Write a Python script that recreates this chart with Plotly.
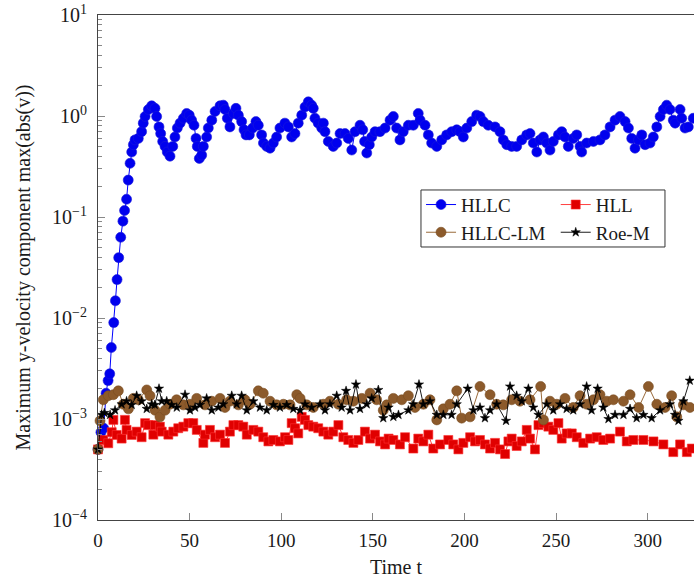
import plotly.graph_objects as go

# ---- data -------------------------------------------------------------
hllc_t = [0, 1.6, 3.1, 4.4, 5.5, 6.4, 7.3, 8.6, 9.5, 10.4, 11.3, 12.4, 13.6, 14.5, 15.6, 16.5, 17.5, 18.4,
          19.3, 20.2, 22.0, 23.8, 24.7, 25.7, 27.5, 29.3, 31.1, 32.0, 33.3, 34.2, 35.3, 36.6, 37.8, 39.3,
          40.8, 42.0, 43.3, 44.8, 46.6, 48.4, 49.8, 51.1, 52.4, 53.5, 54.2, 55.3, 56.6, 57.5, 59.3, 60.2,
          62.1, 63.9, 66.6, 68.4, 69.3, 70.6, 72.0, 73.9, 75.3, 76.6, 78.4, 79.7, 80.8, 82.6, 84.4, 86.2,
          87.5, 89.3, 90.3, 92.1, 93.9, 95.7, 97.5, 99.3, 102.0, 103.9, 105.7, 107.5, 109.3, 111.2, 113.0,
          114.8, 116.6, 117.5, 118.4, 120.2, 122.1, 123.0, 123.9, 125.7, 128.4, 130.3, 132.1, 134.8, 136.6,
          138.5, 140.3, 143.0, 144.5, 145.5, 146.7, 148.1, 149.4, 151.2, 153.9, 156.7, 159.4, 161.2, 163.0,
          164.8, 166.6, 169.4, 172.1, 174.8, 175.8, 178.5, 180.3, 182.1, 184.9, 187.6, 190.3, 193.1, 195.8,
          197.6, 199.4, 201.3, 204.0, 206.7, 208.5, 210.3, 213.0, 216.7, 219.4, 221.2, 223.1, 225.8, 228.5,
          231.3, 234.0, 235.8, 237.6, 239.5, 241.3, 243.1, 244.9, 246.7, 248.5, 251.3, 253.1, 254.9, 256.7,
          259.4, 261.3, 263.1, 264.0, 266.7, 270.4, 274.0, 276.7, 279.5, 282.2, 284.9, 287.7, 289.5, 291.3,
          293.1, 295.0, 296.8, 298.6, 301.3, 303.1, 305.0, 306.8, 308.6, 310.4, 312.2, 314.0, 315.0, 317.7,
          318.6, 320.4, 322.2, 324.9, 327.0]
hllc_v = [5.0e-4, 7.4e-4, 8.1e-4, 1.8e-3, 2.4e-3, 2.8e-3, 5.1e-3, 9.0e-3, 1.48e-2, 2.4e-2, 3.96e-2, 6.3e-2,
          9.1e-2, 0.116, 0.15, 0.232, 0.34, 0.44,
          0.52, 0.58, 0.60, 0.70, 0.85, 0.99, 1.16, 1.26, 1.19, 0.99, 0.78, 0.67, 0.56, 0.50, 0.44, 0.40,
          0.50, 0.62, 0.76, 0.85, 0.95, 1.06, 1.02, 0.91, 0.81, 0.60, 0.50, 0.38, 0.41, 0.50, 0.62, 0.76,
          0.91, 1.11, 1.26, 1.28, 1.16, 0.95, 0.78, 1.06, 1.19, 1.02, 0.88, 0.73, 0.65, 0.65, 0.76, 0.88,
          0.81, 0.65, 0.54, 0.50, 0.48, 0.54, 0.62, 0.76, 0.85, 0.78, 0.62, 0.67, 0.85, 1.02, 1.23,
          1.38, 1.28, 1.19, 0.95, 0.85, 0.76, 0.85, 0.70, 0.56, 0.50, 0.54, 0.67, 0.67, 0.60,
          0.46, 0.70, 0.81, 0.73, 0.56, 0.43, 0.52, 0.62, 0.70, 0.70, 0.76, 0.91, 0.99, 0.76,
          0.58, 0.70, 0.81, 0.81, 1.06, 0.91, 0.81, 0.65, 0.54, 0.50, 0.58, 0.65, 0.70, 0.73,
          0.70, 0.62, 0.76, 0.88, 1.02, 0.99, 0.88, 0.81, 0.78, 0.70, 0.58, 0.52, 0.50, 0.50,
          0.58, 0.65, 0.67, 0.54, 0.44, 0.58, 0.62, 0.54, 0.46, 0.56, 0.65, 0.70, 0.62, 0.50,
          0.60, 0.65, 0.50, 0.44, 0.54, 0.56, 0.58, 0.65, 0.78, 0.91, 0.99, 0.88, 0.76, 0.60,
          0.48, 0.58, 0.65, 0.52, 0.54, 0.62, 0.78, 0.99, 1.16, 1.28, 1.16, 0.91, 0.85, 1.16,
          0.95, 0.76, 0.78, 0.95, 0.90]

hll_t = [0, 2.9, 5.6, 7.5, 8.4, 10.2, 12.9, 14.7, 15.6, 18.4, 21.1, 23.8, 25.7, 27.5, 30.2, 31.1, 33.8, 34.8,
         38.4, 41.1, 43.8, 46.6, 49.3, 52.0, 53.9, 57.5, 58.4, 61.1, 63.9, 66.6, 69.3, 72.0, 73.9, 76.6,
         79.3, 81.2, 84.8, 87.5, 90.2, 93.0, 95.7, 99.3, 102.1, 103.9, 105.7, 107.5, 109.3, 111.2, 113.0,
         114.8, 117.5, 120.2, 123.0, 125.7, 128.4, 131.2, 133.9, 136.6, 139.4, 142.1, 145.7, 148.5, 151.2,
         153.9, 156.7, 158.6, 161.2, 164.8, 167.6, 172.1, 174.8, 177.6, 180.3, 183.0, 186.7, 191.2, 193.9,
         196.7, 199.4, 203.1, 205.8, 208.5, 211.2, 214.0, 216.7, 219.4, 222.2, 224.0, 225.8, 228.5, 231.3,
         234.0, 235.8, 238.5, 240.4, 243.1, 245.8, 248.5, 251.3, 253.1, 255.8, 258.6, 261.3, 264.9, 268.6,
         272.2, 275.8, 279.5, 284.9, 288.6, 292.2, 297.7, 303.2, 308.6, 314.0, 317.7, 321.4, 324.1]
hll_v = [5.0e-4, 6.2e-4, 5.75e-4, 7.4e-4, 9.8e-4, 6.95e-4, 6.4e-4, 9.8e-4, 7.8e-4, 6.95e-4, 7.5e-4, 6.6e-4,
         9.1e-4, 8.7e-4, 7.0e-4, 8.7e-4, 8.4e-4, 7.5e-4,
         7.0e-4, 7.5e-4, 8.1e-4, 8.4e-4, 9.1e-4, 9.1e-4, 7.8e-4, 5.8e-4, 7.0e-4, 7.8e-4, 6.6e-4, 7.0e-4,
         5.8e-4, 7.5e-4, 8.7e-4, 8.7e-4,
         8.4e-4, 7.0e-4, 7.8e-4, 7.5e-4, 6.6e-4, 6.0e-4, 6.2e-4, 6.0e-4, 6.6e-4, 6.2e-4, 9.1e-4, 8.1e-4,
         7.2e-4, 1.05e-3, 9.8e-4,
         8.7e-4, 8.4e-4, 8.1e-4, 7.5e-4, 7.0e-4, 7.5e-4, 8.7e-4, 6.6e-4, 6.2e-4, 5.8e-4, 6.2e-4, 7.5e-4,
         6.4e-4, 7.0e-4,
         6.0e-4, 5.6e-4, 6.4e-4, 6.2e-4, 5.6e-4, 6.6e-4, 5.1e-4, 6.4e-4, 6.0e-4, 7.0e-4, 5.1e-4, 5.6e-4,
         6.2e-4, 5.6e-4,
         5.0e-4, 5.8e-4, 6.6e-4, 6.0e-4, 6.2e-4, 5.6e-4, 5.1e-4, 5.8e-4, 5.0e-4, 4.5e-4, 6.0e-4, 6.4e-4,
         5.4e-4, 6.0e-4,
         7.8e-4, 6.4e-4, 5.0e-4, 8.7e-4, 9.1e-4, 8.4e-4, 7.8e-4, 9.1e-4, 6.4e-4, 7.2e-4, 7.2e-4, 6.6e-4,
         5.8e-4, 6.4e-4,
         6.6e-4, 6.2e-4, 6.4e-4, 7.5e-4, 6.0e-4, 6.2e-4, 6.2e-4, 6.0e-4, 5.6e-4, 4.7e-4, 5.6e-4, 4.7e-4,
         5.1e-4]

lm_t = [0, 1.1, 2.9, 5.6, 8.4, 11.1, 13.8, 16.6, 19.3, 22.0, 26.6, 28.4, 31.1, 33.8, 36.6, 39.3, 42.9, 46.6,
        50.2, 53.9, 58.4, 62.1, 66.6, 69.3, 72.0, 76.6, 80.2, 83.0, 87.5, 90.2, 93.9, 97.5, 101.2, 104.8,
        108.5, 110.3, 113.9, 117.5, 123.0, 126.6, 131.2, 135.7, 139.4, 144.0, 148.5, 152.1, 155.7, 157.6,
        161.2, 165.8, 169.4, 173.0, 177.6, 181.2, 184.9, 188.5, 192.1, 195.8, 198.5, 203.1, 208.5, 214.0,
        217.6, 221.2, 225.8, 230.3, 235.8, 241.6, 243.1, 246.7, 250.4, 254.9, 259.4, 263.1, 266.7, 270.4,
        274.0, 277.7, 281.3, 286.8, 290.4, 295.1, 300.4, 305.0, 309.5, 313.1, 315.9, 319.5, 323.1]
lm_v = [5.0e-4, 9.6e-4, 1.55e-3, 1.7e-3, 1.74e-3, 1.9e-3, 1.4e-3, 1.26e-3, 1.6e-3, 1.55e-3, 1.94e-3, 1.7e-3,
        1.22e-3, 1.05e-3, 1.22e-3, 1.4e-3, 1.55e-3, 1.38e-3,
        1.4e-3, 1.6e-3, 1.38e-3, 1.5e-3, 1.6e-3, 1.3e-3, 1.5e-3, 1.38e-3, 1.55e-3, 1.4e-3, 1.9e-3, 1.8e-3,
        1.5e-3, 1.38e-3, 1.4e-3, 1.38e-3,
        1.74e-3, 1.6e-3, 1.38e-3, 1.3e-3, 1.4e-3, 1.5e-3, 1.4e-3, 1.55e-3, 1.5e-3, 1.6e-3, 1.8e-3, 1.55e-3,
        1.22e-3, 1.38e-3,
        1.6e-3, 1.55e-3, 1.7e-3, 1.3e-3, 1.4e-3, 1.55e-3, 9.8e-4, 1.26e-3, 1.4e-3, 1.9e-3, 1.02e-3, 1.05e-3,
        2.1e-3, 1.74e-3,
        1.4e-3, 1.38e-3, 1.55e-3, 1.5e-3, 1.55e-3, 2.1e-3, 9.8e-4, 1.5e-3, 1.4e-3, 1.6e-3, 1.3e-3, 1.7e-3,
        1.4e-3, 1.55e-3,
        1.74e-3, 1.5e-3, 1.55e-3, 1.5e-3, 1.74e-3, 1.3e-3, 2.1e-3, 1.4e-3, 1.3e-3, 1.7e-3, 1.05e-3, 1.38e-3,
        1.3e-3]

roe_t = [0, 2.0, 3.5, 6.6, 9.3, 12.9, 15.6, 18.4, 21.1, 23.8, 26.6, 29.3, 31.0, 33.3, 34.8, 37.5, 40.2, 43.0,
         47.5, 50.2, 53.0, 55.7, 59.3, 62.1, 65.7, 68.4, 73.0, 75.7, 78.4, 81.2, 84.8, 88.4, 92.1, 95.7, 99.3,
         103.0, 106.6, 110.3, 113.0, 116.6, 121.2, 123.9, 126.6, 130.3, 133.0, 135.4, 137.6, 140.8, 143.0,
         146.7, 149.4, 153.0, 155.7, 158.6, 161.2, 164.0, 169.4, 172.0, 175.2, 177.6, 181.2, 184.9, 188.5,
         193.0, 195.8, 201.8, 204.9, 208.5, 211.2, 214.0, 217.6, 222.7, 224.9, 228.5, 231.3, 234.9, 237.6,
         240.4, 244.9, 248.5, 252.2, 255.8, 259.4, 263.1, 266.7, 269.4, 272.7, 275.8, 278.6, 282.2, 286.8,
         290.4, 294.0, 297.7, 302.2, 306.8, 312.2, 314.9, 316.8, 319.5, 323.0]
roe_v = [5.0e-4, 1.1e-3, 1.15e-3, 1.1e-3, 1.22e-3, 1.4e-3, 1.5e-3, 1.38e-3, 1.7e-3, 1.5e-3, 1.26e-3, 1.4e-3,
         1.38e-3, 2.0e-3, 1.5e-3, 1.5e-3, 1.38e-3, 1.3e-3,
         1.74e-3, 1.22e-3, 1.3e-3, 1.38e-3, 1.6e-3, 1.22e-3, 1.3e-3, 1.4e-3, 1.7e-3, 1.4e-3, 1.7e-3, 1.22e-3,
         1.5e-3, 1.3e-3, 1.22e-3, 1.38e-3, 1.3e-3,
         1.38e-3, 1.26e-3, 1.22e-3, 1.4e-3, 1.3e-3, 1.4e-3, 1.22e-3, 1.4e-3, 1.7e-3, 1.3e-3, 1.9e-3, 1.22e-3,
         2.2e-3, 1.26e-3,
         1.4e-3, 1.6e-3, 1.94e-3, 1.02e-3, 1.3e-3, 1.05e-3, 1.1e-3, 1.22e-3, 1.4e-3, 2.2e-3, 1.4e-3, 1.5e-3,
         1.1e-3, 1.1e-3,
         1.1e-3, 1.4e-3, 2.0e-3, 1.22e-3, 1.3e-3, 1.02e-3, 1.22e-3, 1.4e-3, 9.6e-4, 2.1e-3, 1.7e-3, 1.5e-3,
         2.0e-3, 1.3e-3,
         1.1e-3, 1.4e-3, 1.22e-3, 1.4e-3, 1.26e-3, 1.22e-3, 1.4e-3, 2.1e-3, 1.22e-3, 2.0e-3, 1.3e-3, 1.0e-3,
         1.1e-3, 1.1e-3,
         1.26e-3, 1.02e-3, 1.1e-3, 1.02e-3, 1.22e-3, 1.4e-3, 1.1e-3, 9.6e-4, 1.5e-3, 2.4e-3]

x_ticks = [0, 50, 100, 150, 200, 250, 300]
y_exponents = [-4, -3, -2, -1, 0, 1]

FONT = "Liberation Serif"
TXT = "#1a1a1a"

fig = go.Figure()

fig.add_trace(go.Scatter(
    x=hllc_t, y=hllc_v, name="HLLC", mode="lines+markers", cliponaxis=False,
    line=dict(color="#0000ff", width=1),
    marker=dict(symbol="circle", size=10, color="#0000ee", line=dict(color="#1a1ad9", width=0.6)),
    legend="legend",
))
fig.add_trace(go.Scatter(
    x=hll_t, y=hll_v, name="HLL", mode="lines+markers", cliponaxis=False,
    line=dict(color="#ff4040", width=1),
    marker=dict(symbol="square", size=9, color="#e00000", line=dict(color="#ff3030", width=0.6)),
    legend="legend2",
))
fig.add_trace(go.Scatter(
    x=lm_t, y=lm_v, name="HLLC-LM", mode="lines+markers", cliponaxis=False,
    line=dict(color="#9a6a3a", width=1),
    marker=dict(symbol="circle", size=10, color="#8c5a2b", line=dict(color="#7a4d22", width=0.6)),
    legend="legend",
))
fig.add_trace(go.Scatter(
    x=roe_t, y=roe_v, name="Roe-M", mode="lines+markers", cliponaxis=False,
    line=dict(color="#000000", width=0.9),
    marker=dict(symbol="star", size=7, color="#000000", line=dict(color="#000000", width=0.5)),
    legend="legend2",
))

y_minor = [m * 10 ** e for e in y_exponents[:-1] for m in range(2, 10)]

fig.update_layout(
    width=694, height=579,
    margin=dict(l=98, r=0, t=15, b=59),
    paper_bgcolor="white", plot_bgcolor="white",
    font=dict(family=FONT, size=19, color=TXT),
    xaxis=dict(
        range=[0, 325.3], tickvals=x_ticks, ticktext=[str(v) for v in x_ticks],
        ticks="inside", ticklen=7, tickcolor="#888888", tickwidth=1,
        showline=True, linecolor="#444444", linewidth=1, mirror=True,
        showgrid=False, zeroline=False, tickfont=dict(size=19), ticklabelstandoff=3,
        title=dict(text="Time t", standoff=10, font=dict(size=20)),
    ),
    yaxis=dict(
        type="log", range=[-4, 1],
        tickvals=[10 ** e for e in y_exponents],
        ticktext=["10<sup>%s</sup>" % (str(e).replace("-", "\u2212")) for e in y_exponents],
        ticks="inside", ticklen=7, tickcolor="#888888", tickwidth=1,
        minor=dict(tickvals=y_minor, ticks="inside", ticklen=4, tickcolor="#888888"),
        showline=True, linecolor="#444444", linewidth=1,
        showgrid=False, zeroline=False, tickfont=dict(size=20), ticklabelstandoff=6,
        title=dict(text="Maximum y-velocity component max(abs(v))", standoff=16, font=dict(size=20)),
    ),
    legend=dict(x=0.542, y=0.662, xanchor="left", yanchor="top", bgcolor="rgba(0,0,0,0)",
                borderwidth=0, font=dict(size=19), itemwidth=30, tracegroupgap=0),
    legend2=dict(x=0.768, y=0.662, xanchor="left", yanchor="top", bgcolor="rgba(0,0,0,0)",
                 borderwidth=0, font=dict(size=19), itemwidth=30, tracegroupgap=0),
    shapes=[dict(type="rect", xref="paper", yref="paper", x0=0.5419, x1=0.9513, y0=0.5406, y1=0.6535,
                 line=dict(color="#333333", width=1), fillcolor="white", layer="below")],
)

fig.write_html("out.html")
